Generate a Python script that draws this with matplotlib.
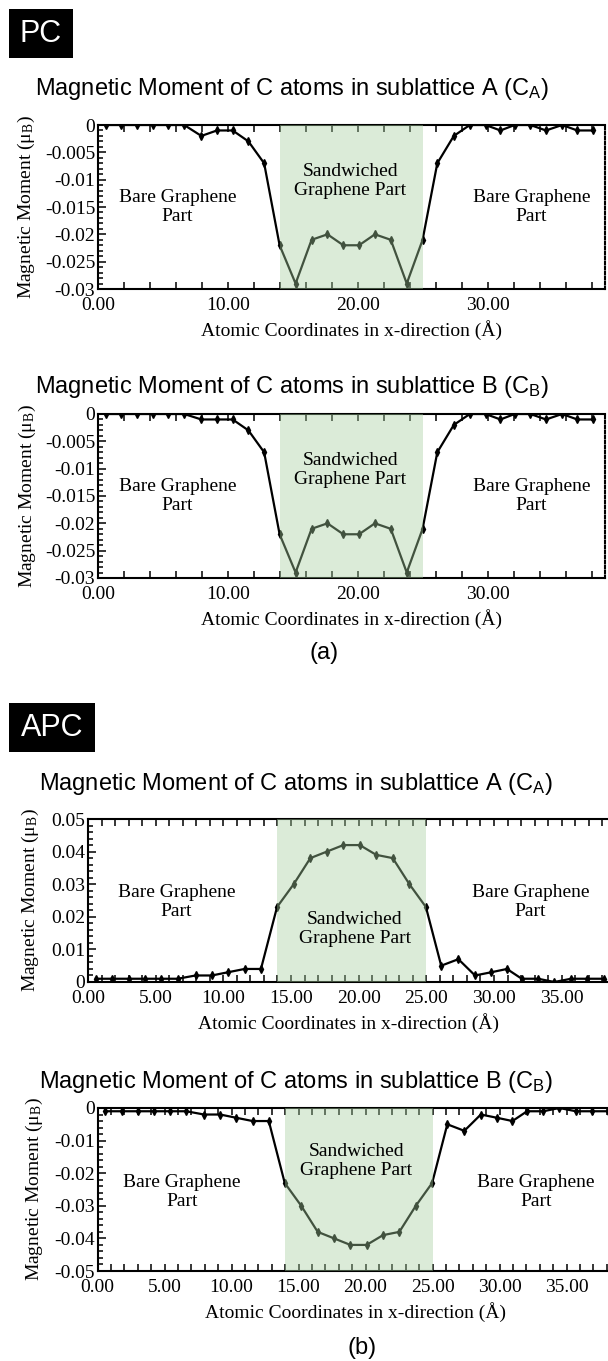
"""Magnetic moment profiles of C atoms in sublattices A and B (PC / APC)."""

import matplotlib

matplotlib.use("Agg")
import matplotlib.pyplot as plt
from matplotlib.patches import Rectangle
from matplotlib.ticker import MultipleLocator, FuncFormatter

plt.rcParams["axes.unicode_minus"] = False
plt.rcParams["mathtext.default"] = "regular"

# ---- data ----
x_coords = [0.58, 1.80, 3.00, 4.20, 5.42, 6.63, 7.95, 9.15, 10.36, 11.57, 12.78,
            13.97, 15.20, 16.43, 17.65, 18.87, 20.08, 21.30, 22.52, 23.75, 24.97,
            26.10, 27.37, 28.60, 29.81, 30.96, 32.05, 33.26, 34.46, 35.70, 36.87, 38.10]

pc_a = [0, 0, 0, 0, 0, 0, -0.002, -0.001, -0.001, -0.003, -0.007,
        -0.022, -0.029, -0.021, -0.020, -0.022, -0.022, -0.020, -0.021, -0.029, -0.021,
        -0.007, -0.002, 0, 0, -0.001, 0, 0, -0.001, 0, -0.001, -0.001]
pc_b = [0, 0, 0, 0, 0, 0, -0.001, -0.001, -0.001, -0.003, -0.007,
        -0.022, -0.029, -0.021, -0.020, -0.022, -0.022, -0.020, -0.021, -0.029, -0.021,
        -0.007, -0.002, 0, 0, -0.001, 0, 0, -0.001, 0, -0.001, -0.001]
apc_a = [0.001, 0.001, 0.001, 0.001, 0.001, 0.001, 0.002, 0.002, 0.003, 0.004, 0.004,
         0.023, 0.030, 0.038, 0.040, 0.042, 0.042, 0.039, 0.038, 0.030, 0.023,
         0.005, 0.007, 0.002, 0.003, 0.004, 0.001, 0.001, 0.000, 0.001, 0.001, 0.001]
apc_b = [-0.001, -0.001, -0.001, -0.001, -0.001, -0.001, -0.002, -0.002, -0.003, -0.004, -0.004,
         -0.023, -0.030, -0.038, -0.040, -0.042, -0.042, -0.039, -0.038, -0.030, -0.023,
         -0.005, -0.007, -0.002, -0.003, -0.004, -0.001, -0.001, 0.000, -0.001, -0.001, -0.001]

sandwich_span = (14.0, 25.0)

titles = ["Magnetic Moment of C atoms in sublattice A (C$_{A}$)",
          "Magnetic Moment of C atoms in sublattice B (C$_{B}$)"]
y_label = "Magnetic Moment (\u03bc$_{B}$)"
x_label = "Atomic Coordinates in x-direction (\u00c5)"

W, H = 608, 1361
SERIF = "Liberation Serif"
SANS = "Liberation Sans"
FS = 14

fig = plt.figure(figsize=(W / 100, H / 100), dpi=100)


def rect(left, top, width, height):
    return [left / W, 1 - (top + height) / H, width / W, height / H]


def fmt_y(v, p):
    v = round(v, 4) + 0.0
    return "0" if v == 0 else f"{v:g}"


def panel(pos, y, ylim, ymajor, yminor, xlim, xmajor, xminor, ylab_x,
          bare_y, sand_y, bare_left_x, bare_right_x, sand_x, dotted_right):
    ax = fig.add_axes(rect(*pos))
    ax.plot(x_coords, y, color="black", lw=1.6, marker="d", ms=3.8, zorder=2)
    ax.axvspan(*sandwich_span, facecolor="#a6cf9f", alpha=0.4, lw=0, zorder=3)
    ax.set_xlim(*xlim)
    ax.set_ylim(*ylim)
    ax.xaxis.set_major_locator(MultipleLocator(xmajor))
    ax.xaxis.set_minor_locator(MultipleLocator(xminor))
    ax.yaxis.set_major_locator(MultipleLocator(ymajor))
    ax.yaxis.set_minor_locator(MultipleLocator(yminor))
    ax.xaxis.set_major_formatter(FuncFormatter(lambda v, p: f"{v:.2f}"))
    ax.yaxis.set_major_formatter(FuncFormatter(fmt_y))
    ax.tick_params(which="both", direction="in", top=True, right=False,
                   width=1.1, labelsize=FS)
    ax.tick_params(axis="y", pad=2)
    ax.tick_params(axis="x", pad=6)
    ax.tick_params(which="major", length=6)
    ax.tick_params(which="minor", length=3.5)
    ax.tick_params(axis="x", which="both", length=5)
    for lab in ax.get_xticklabels() + ax.get_yticklabels():
        lab.set_fontfamily(SERIF)
    for side in ["left", "bottom", "top"]:
        ax.spines[side].set_linewidth(1.5)
    if dotted_right:
        ax.spines["right"].set_linestyle((0, (1.2, 1.2)))
        ax.spines["right"].set_linewidth(1.5)
    else:
        ax.spines["right"].set_visible(False)
    ax.set_ylabel(y_label, family=SERIF, fontsize=FS)
    ax.yaxis.set_label_coords((ylab_x - pos[0]) / pos[2], 0.5)
    ax.set_xlabel(x_label, family=SERIF, fontsize=FS, labelpad=4)
    txt = dict(family=SERIF, fontsize=FS, ha="center", va="center",
               linespacing=1.15, zorder=4)
    ax.text(bare_left_x, bare_y, "Bare Graphene\nPart", **txt)
    ax.text(bare_right_x, bare_y, "Bare Graphene\nPart", **txt)
    ax.text(sand_x, sand_y, "Sandwiched\nGraphene Part", **txt)
    return ax


# PC
panel((98, 125, 507, 164), pc_a, (-0.03, 0), 0.005, 0.001, (0, 39), 10, 2, 37,
      -0.015, -0.0102, 6.1, 33.35, 19.4, True)
panel((98, 414, 507, 164), pc_b, (-0.03, 0), 0.005, 0.001, (0, 39), 10, 2, 38,
      -0.015, -0.0102, 6.1, 33.35, 19.4, True)
# APC
panel((88, 819, 521, 163), apc_a, (0, 0.05), 0.01, 0.002, (0, 38.5), 5, 1, 41,
      0.0244, 0.0163, 6.55, 32.7, 19.7, False)
panel((97.5, 1108, 516, 163), apc_b, (-0.05, 0), 0.01, 0.002, (0, 38.5), 5, 1, 45,
      -0.0257, -0.0164, 6.3, 32.7, 19.3, False)

# titles
for xt, yb, t in [(35, 95, titles[0]), (35, 393, titles[1]),
                  (39, 790, titles[0]), (39, 1088, titles[1])]:
    fig.text(xt / W, 1 - yb / H, t, family=SANS, fontsize=17, ha="left", va="baseline")

# black label boxes
for (x0, y0, x1, y1, lab) in [(8.5, 9, 73, 58, "PC"), (8.5, 703, 95, 752, "APC")]:
    fig.patches.append(Rectangle((x0 / W, 1 - y1 / H), (x1 - x0) / W, (y1 - y0) / H,
                                 transform=fig.transFigure, facecolor="black",
                                 edgecolor="none"))
    fig.text((x0 + x1) / 2 / W, 1 - (y0 + y1) / 2 / H, lab, color="white",
             family=SANS, fontsize=22, ha="center", va="center")

fig.text(324 / W, 1 - 653 / H, "(a)", family=SANS, fontsize=17, ha="center", va="center")
fig.text(362 / W, 1 - 1348 / H, "(b)", family=SANS, fontsize=17, ha="center", va="center")

fig.savefig("out.png", dpi=100)
